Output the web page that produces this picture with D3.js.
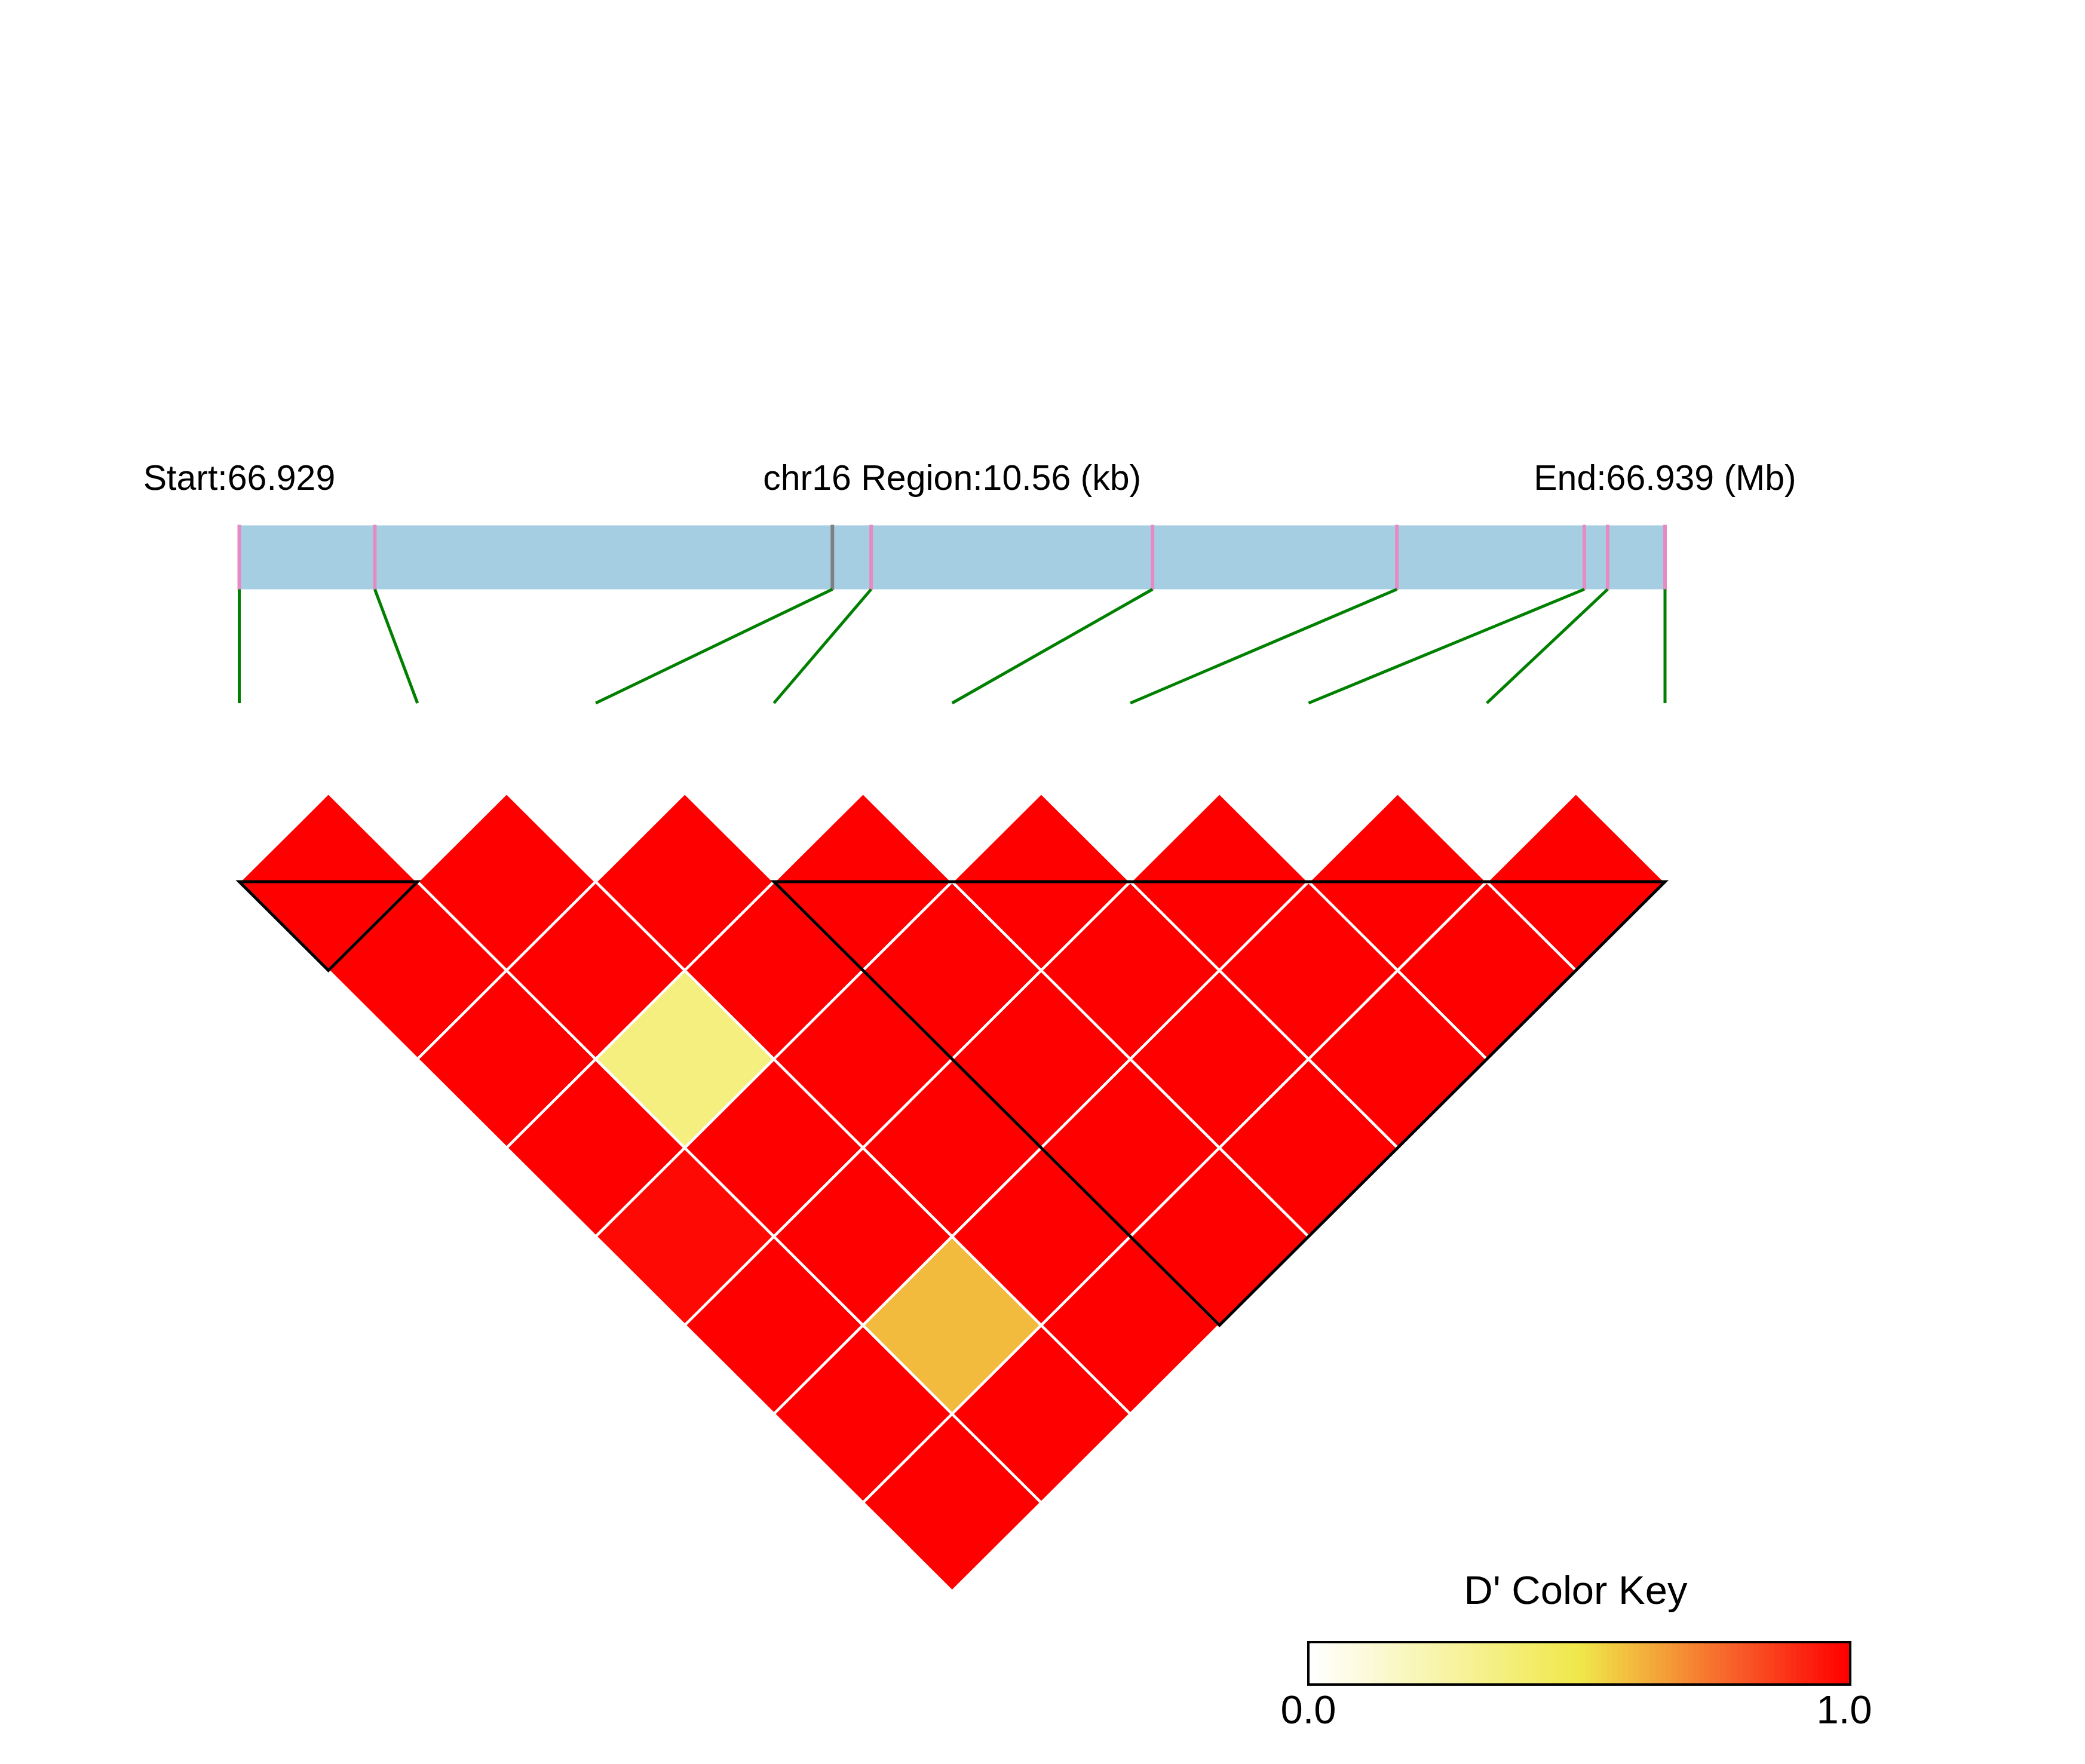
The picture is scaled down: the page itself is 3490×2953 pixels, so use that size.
<!DOCTYPE html>
<html><head><meta charset="utf-8">
<script src="https://cdn.jsdelivr.net/npm/d3@7"></script>
<style>html,body{margin:0;padding:0;background:#fff;} svg{display:block;}</style>
</head><body>
<svg id="chart" width="3490" height="2953"></svg>
<script>
// ---------- data ----------
const chrom = "chr16";
const regionStart = 66928700;   // bp
const regionEnd = 66939260;     // bp
const snpPositions = [66928700, 66929704, 66933093, 66933380, 66935464, 66937274, 66938662, 66938835, 66939260];
const highlightedSnp = 2;        // index of SNP drawn with grey tick
// D' values, row i holds pairs (i, i+1), (i, i+2), ...
const dprimeRows = [
  [1, 1, 1, 1, 0.98, 1, 1, 1],
  [1, 1, 0.35, 1, 1, 0.6, 1],
  [1, 1, 1, 1, 1, 1],
  [1, 1, 1, 1, 1],
  [1, 1, 1, 1],
  [1, 1, 1],
  [1, 1],
  [1]
];
// LD blocks (SNP index ranges, inclusive)
const ldBlocks = [[0, 1], [3, 8]];
const keyTicks = ["0.0", "1.0"];
const keyTitle = "D' Color Key";

// ---------- layout ----------
const svg = d3.select("#chart");
const W = 3490, H = 2953;
svg.append("rect").attr("width", W).attr("height", H).attr("fill", "#fff");
const font = "'Liberation Sans', Arial, Helvetica, sans-serif";

const barLeft = 400.5, barRight = 2787;
const barTop = 879.5, barBottom = 986.5;
const linkBottom = 1177;
const baseY = 1476;
const n = snpPositions.length;

const xGen = d3.scaleLinear().domain([regionStart, regionEnd]).range([barLeft, barRight]);
const xSlot = d3.scalePoint().domain(d3.range(n)).range([barLeft, barRight]);
const halfW = xSlot.step() / 2;
const halfH = 148.5;
const yRow = d3.scaleLinear().domain([0, n - 2]).range([baseY, baseY + (n - 2) * halfH]);

const color = d3.scaleLinear()
  .domain([0, 0.5, 0.6, 0.8, 1])
  .range(["#FFFFFF", "#F0E84A", "#F2BB3E", "#F85A28", "#FF0000"]);

// ---------- top labels ----------
const labelY = 820;
const lab = svg.append("g").attr("font-family", font).attr("font-size", 59).attr("fill", "#000").attr("text-anchor", "middle");
lab.append("text").attr("x", xGen(regionStart)).attr("y", labelY).text("Start:" + (regionStart / 1e6).toFixed(3));
lab.append("text").attr("x", (xGen(regionStart) + xGen(regionEnd)) / 2).attr("y", labelY)
  .text(chrom + " Region:" + ((regionEnd - regionStart) / 1000).toFixed(2) + " (kb)");
lab.append("text").attr("x", xGen(regionEnd)).attr("y", labelY).text("End:" + (regionEnd / 1e6).toFixed(3) + " (Mb)");

// ---------- chromosome bar ----------
svg.append("rect").attr("x", barLeft).attr("y", barTop).attr("width", barRight - barLeft).attr("height", barBottom - barTop)
  .attr("fill", "#A6CEE3");
svg.append("g").selectAll("line").data(snpPositions).join("line")
  .attr("x1", d => xGen(d)).attr("x2", d => xGen(d))
  .attr("y1", barTop - 1).attr("y2", barBottom + 1)
  .attr("stroke", (d, i) => i === highlightedSnp ? "#808080" : "#E78AC3")
  .attr("stroke-width", 6);

// ---------- links ----------
svg.append("g").selectAll("line").data(snpPositions).join("line")
  .attr("x1", d => xGen(d)).attr("y1", barBottom)
  .attr("x2", (d, i) => xSlot(i)).attr("y2", linkBottom)
  .attr("stroke", "#008000").attr("stroke-width", 5);

// ---------- LD heatmap ----------
const cells = [];
dprimeRows.forEach((row, i) => row.forEach((v, k) => {
  const j = i + k + 1;
  cells.push({i, j, v});
}));
svg.append("g").selectAll("polygon").data(cells).join("polygon")
  .attr("points", d => {
    const cx = (xSlot(d.i) + xSlot(d.j)) / 2;
    const cy = yRow(d.j - d.i - 1);
    return [[cx, cy - halfH], [cx + halfW, cy], [cx, cy + halfH], [cx - halfW, cy]].map(p => p.join(",")).join(" ");
  })
  .attr("fill", d => color(d.v))
  .attr("stroke", "#fff").attr("stroke-width", 4.5).attr("stroke-linejoin", "miter");

// block outlines
svg.append("g").selectAll("polygon").data(ldBlocks).join("polygon")
  .attr("points", d => {
    const a = xSlot(d[0]), b = xSlot(d[1]);
    return [[a, baseY], [b, baseY], [(a + b) / 2, baseY + (d[1] - d[0]) * halfH]].map(p => p.join(",")).join(" ");
  })
  .attr("fill", "none").attr("stroke", "#000").attr("stroke-width", 5).attr("stroke-linejoin", "miter");

// ---------- color key ----------
const keyX0 = 2190, keyX1 = 3097, keyY0 = 2749, keyY1 = 2820;
const nStripes = 100;
const kx = d3.scaleLinear().domain([0, 1]).range([keyX0, keyX1]);
const stripes = d3.range(nStripes).map(k => k / (nStripes - 1));
svg.append("g").selectAll("rect").data(stripes).join("rect")
  .attr("x", (d, k) => kx(k / nStripes)).attr("y", keyY0)
  .attr("width", (keyX1 - keyX0) / nStripes + 0.6).attr("height", keyY1 - keyY0)
  .attr("fill", d => color(d)).attr("shape-rendering", "crispEdges");
svg.append("rect").attr("x", keyX0).attr("y", keyY0).attr("width", keyX1 - keyX0).attr("height", keyY1 - keyY0)
  .attr("fill", "none").attr("stroke", "#000").attr("stroke-width", 4);
const kg = svg.append("g").attr("font-family", font).attr("font-size", 67).attr("fill", "#000").attr("text-anchor", "middle");
kg.append("text").attr("x", (keyX0 + keyX1) / 2 - 6).attr("y", 2685).text(keyTitle);
const tickX = d3.scaleLinear().domain([0, 1]).range([keyX0, keyX1 - 10]);
kg.selectAll("text.tick").data(keyTicks).join("text").attr("class", "tick")
  .attr("x", (d, k) => tickX(k)).attr("y", 2885).text(d => d);
</script>
</body></html>
